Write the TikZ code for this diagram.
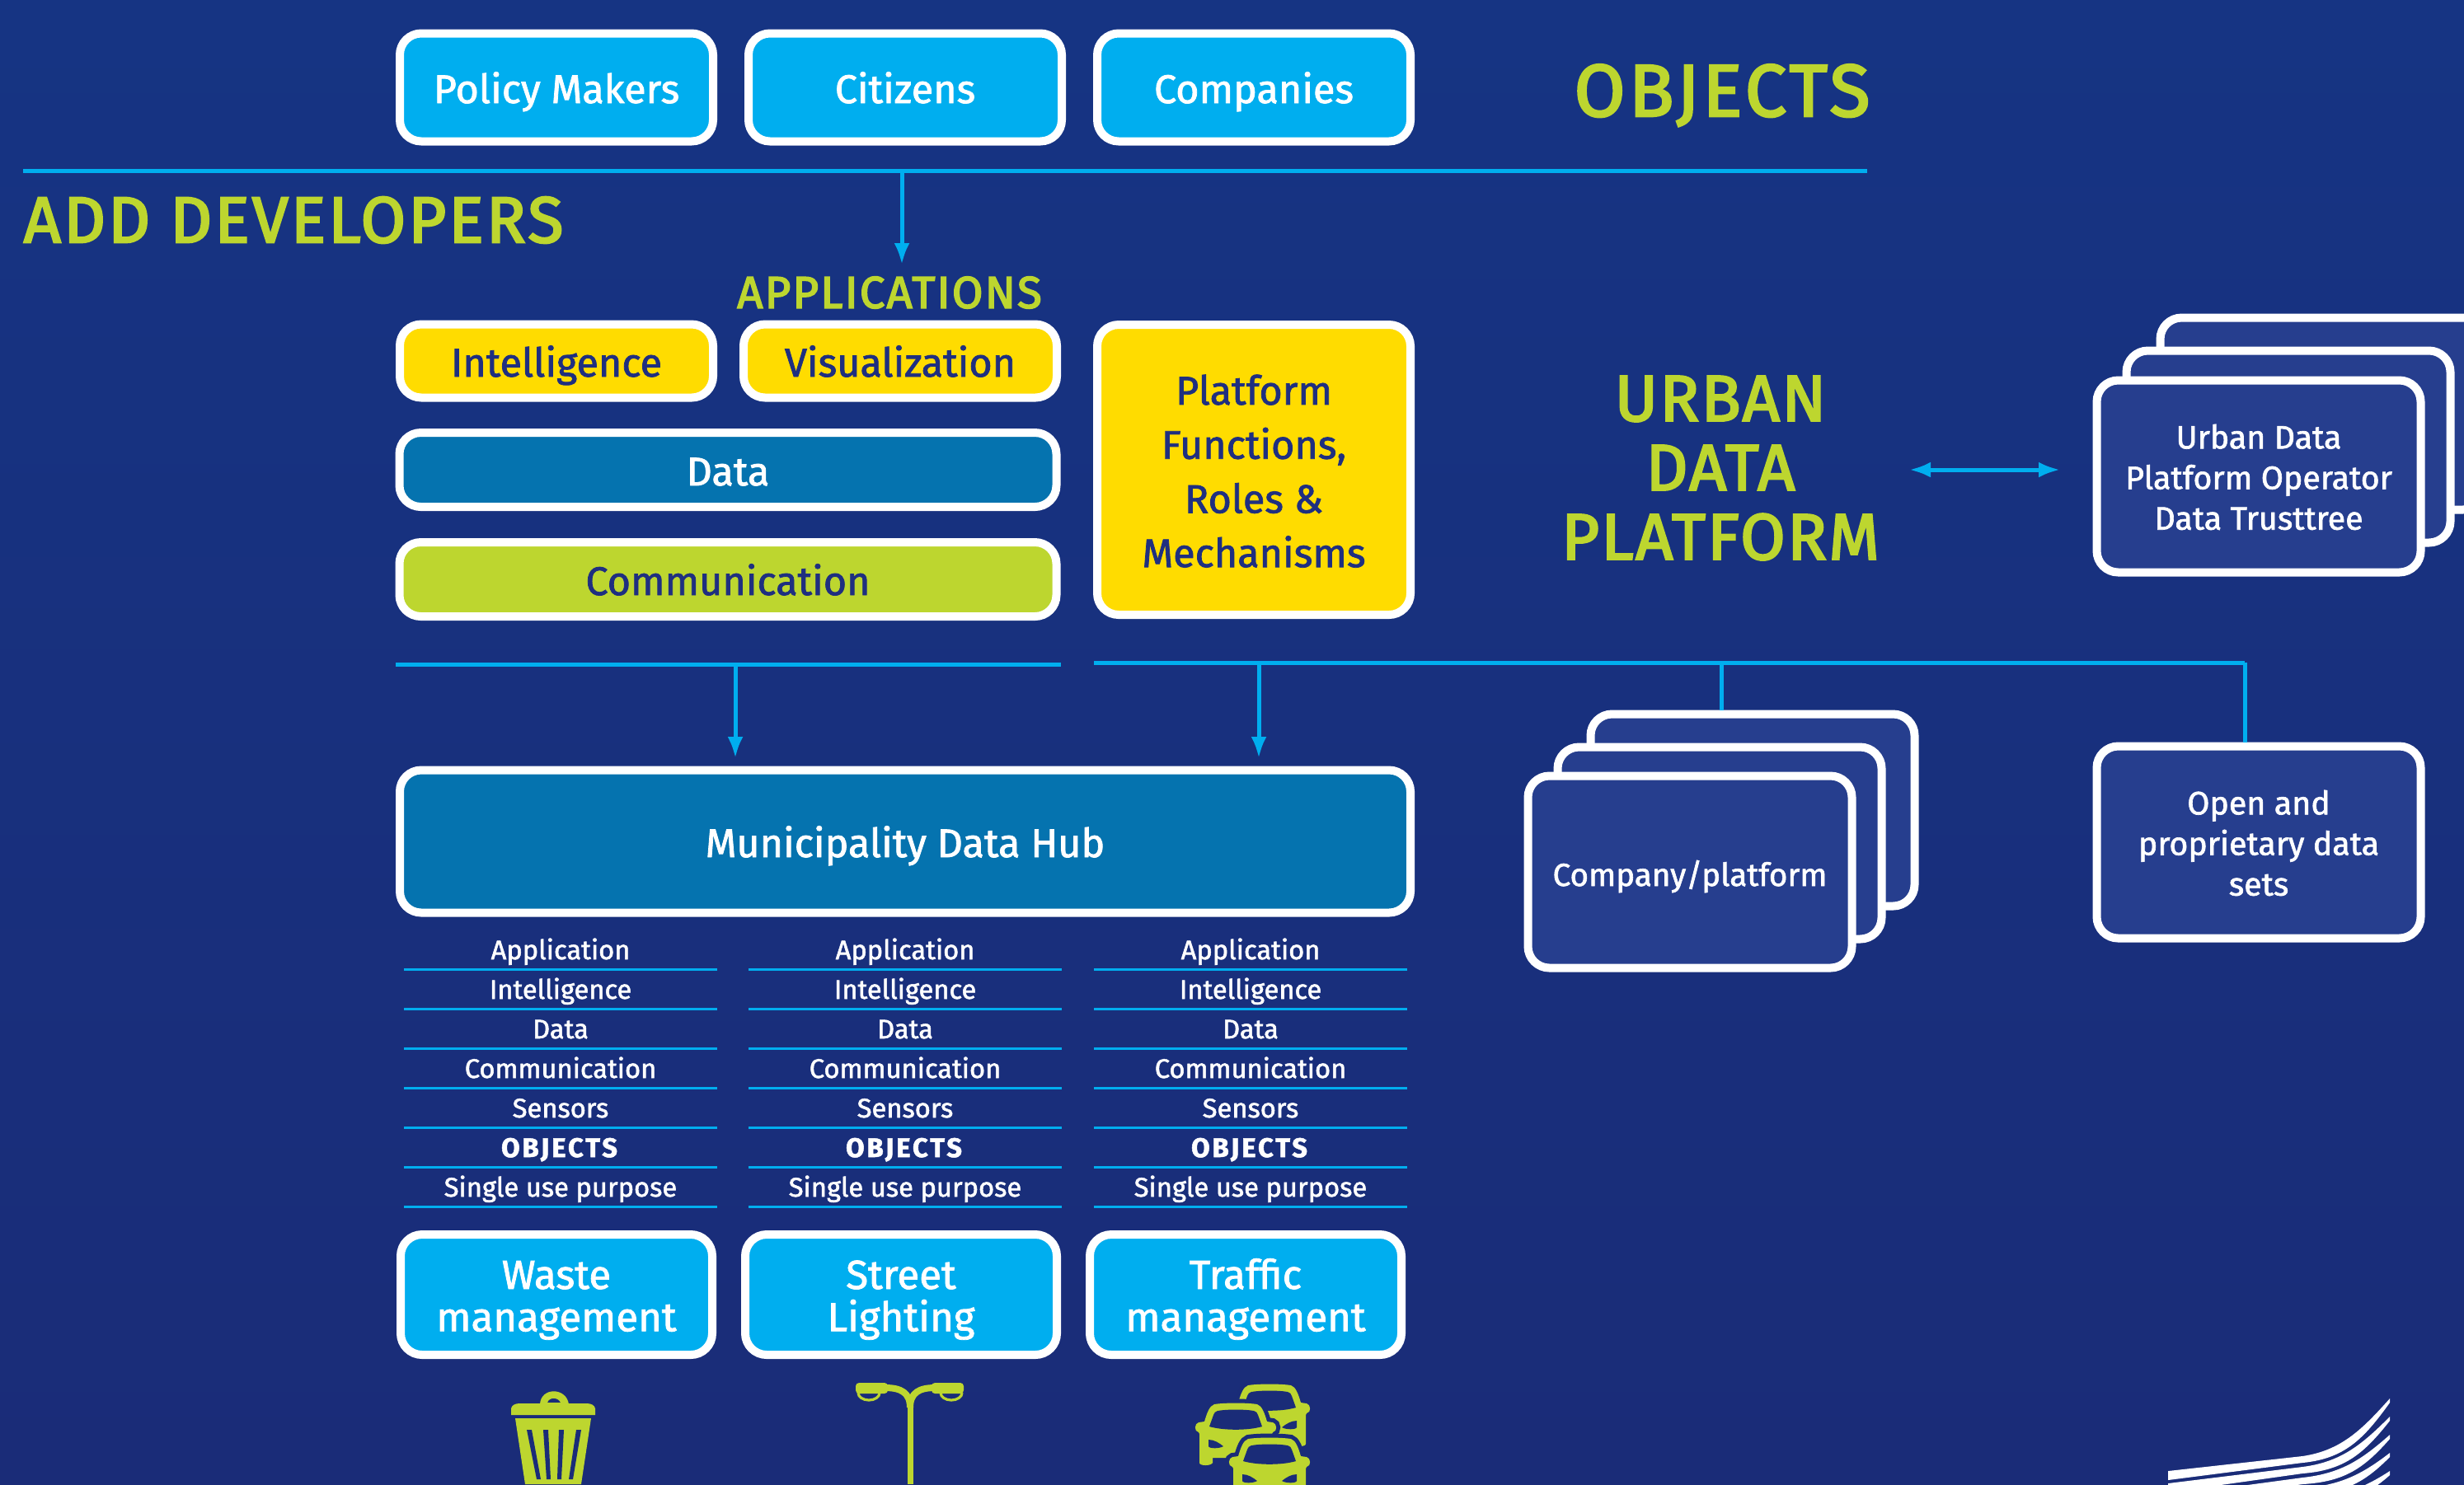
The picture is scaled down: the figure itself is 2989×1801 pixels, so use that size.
\documentclass[tikz,border=0pt]{standalone}
\usepackage{fontspec}
\setmainfont[FakeBold=1.6]{Fira Sans}
\usepackage{xcolor}
\usetikzlibrary{arrows.meta,positioning,calc}
\definecolor{bgtop}{HTML}{163483}
\definecolor{bgbot}{HTML}{1A2C78}
\definecolor{sky}{HTML}{00AEEF}
\definecolor{sun}{HTML}{FFDC00}
\definecolor{lime}{HTML}{BDD62F}
\definecolor{hub}{HTML}{0573AF}
\definecolor{panel}{HTML}{263E8E}
\definecolor{ink}{HTML}{1F2F80}
\newcommand{\fs}[2]{\fontsize{#1pt}{#2pt}\selectfont}
\tikzset{
  box/.style={draw=white,line width=1mm,rounded corners=2.6mm,align=center,inner sep=0pt,text=white},
  oneline/.style={text height=4.8mm,text depth=1mm},
  skybox/.style={box,oneline,fill=sky,minimum width=38mm,minimum height=13.1mm,font=\fs{13.8}{14}},
  wastebox/.style={box,fill=sky,minimum width=37.8mm,minimum height=14.6mm,text height=28.2pt,text depth=3pt,font=\fs{14}{14.6}},
  sunbox/.style={box,oneline,fill=sun,text=ink,minimum width=38mm,minimum height=8.9mm,font=\fs{13.8}{14}},
  widebox/.style={box,oneline,minimum width=79.7mm,minimum height=9mm,font=\fs{13.8}{14}},
  panelbox/.style={box,fill=panel,minimum width=39.3mm,minimum height=23.3mm,font=\fs{11.2}{14}},
  bigtitle/.style={text=lime,align=center,inner sep=0pt},
  rowtext/.style={text=white,minimum width=37.9mm,minimum height=4.8mm,inner sep=0pt,text height=3mm,text depth=0.6mm,font=\fs{9.3}{11}},
  rule/.style={draw=sky,line width=0.5mm},
  thinrule/.style={draw=sky,line width=0.25mm},
  arr/.style={draw=sky,line width=0.5mm,-{Latex[length=2.6mm,width=1.9mm]}},
  arrboth/.style={draw=sky,line width=0.5mm,{Latex[length=2.6mm,width=1.9mm]}-{Latex[length=2.6mm,width=1.9mm]}},
  pics/caricon/.style={code={
    \path[fill=lime,preaction={draw=bgbot,line width=1mm}] (-26,1) .. controls (-14,-1) and (14,-1) .. (26,1)
      .. controls (32,3) and (35,12) .. (38,22) -- (45,23)
      .. controls (50,24) and (51,34) .. (45,35) -- (44,37) -- (44,72) .. controls (44,76) and (30,76) .. (28,72) -- (28,66)
      -- (-28,66) -- (-28,72) .. controls (-30,76) and (-44,76) .. (-44,72) -- (-44,37) -- (-45,35)
      .. controls (-51,34) and (-50,24) .. (-45,23) -- (-38,22)
      .. controls (-35,12) and (-32,3) .. (-26,1) -- cycle;
    \fill[bgbot] (-22,9) .. controls (-12,7) and (12,7) .. (22,9) .. controls (25,10) and (26,11) .. (27,14) -- (32,28)
      .. controls (15,33) and (-15,33) .. (-32,28) -- (-27,14) .. controls (-26,11) and (-25,10) .. (-22,9) -- cycle;
    \fill[bgbot] (-33,44) .. controls (-26,44) and (-20,48) .. (-15,52) .. controls (-20,55) and (-32,55) .. (-33,52) -- cycle;
    \fill[bgbot] (33,44) .. controls (26,44) and (20,48) .. (15,52) .. controls (20,55) and (32,55) .. (33,52) -- cycle;
  }}
}
\begin{document}
\begin{tikzpicture}[x=0.1mm,y=-0.1mm]
\useasboundingbox (0,0) rectangle (2989,1801);
\clip (0,0) rectangle (2989,1801);
\fill[top color=bgtop,bottom color=bgbot] (0,0) rectangle (2989,1801);

% Top row
\node[skybox] (policy) at (675,106) {Policy Makers};
\node[skybox] (citizens) at (1098,106) {Citizens};
\node[skybox] (companies) at (1521,106) {Companies};
\node[bigtitle,text height=6.2mm,text depth=0mm,font=\fs{25.5}{28}\addfontfeature{LetterSpace=5,FakeBold=3}] (objects) at (2089,110) {OBJECTS};

% Developer rule
\coordinate (ruleL) at (28,207);
\coordinate (ruleR) at (2265,207);
\coordinate (toapps) at (1094,321);
\draw[rule] (ruleL) -- (ruleR);
\draw[arr] (toapps |- ruleL) -- (toapps);
\node[bigtitle,anchor=west,font=\fs{22.5}{26}\addfontfeature{LetterSpace=4,FakeBold=3}] (developers) at (28,267) {ADD DEVELOPERS};
\node[bigtitle,font=\fs{15.5}{18}\addfontfeature{LetterSpace=4,FakeBold=3}] (apps) at (1079,355) {APPLICATIONS};

% Platform layers
\node[sunbox] (intel) at (675,438) {Intelligence};
\node[sunbox] (visual) at (1092,438) {Visualization};
\node[widebox,fill=hub] (data) at (883,570) {Data};
\node[widebox,fill=lime,text=ink] (comm) at (883,703) {Communication};
\node[box,fill=sun,text=ink,minimum width=38mm,minimum height=35.2mm,text height=67.2pt,text depth=0pt,font=\fs{13.8}{18.7}] (functions) at (1521,570) {Platform\\Functions,\\Roles \&\\Mechanisms};
\node[bigtitle,font=\fs{22.5}{23.9}\addfontfeature{LetterSpace=3,FakeBold=3}] (urban) at (2087,568) {URBAN\\DATA\\PLATFORM};

% Operator stack
\node[panelbox] (opC) at (2817,502) {};
\node[panelbox] (opB) at (2776,542) {};
\node[panelbox,text height=36.8pt,text depth=0pt] (opA) at (2740,578) {Urban Data\\Platform Operator\\Data Trusttree};
\coordinate (opL) at (2316,570);
\coordinate (opR) at (2499,570);
\draw[arrboth] (opL) -- (opR);

% Rules below the platform
\coordinate (lowA) at (480,806);
\coordinate (lowB) at (1287,806);
\coordinate (lowC) at (1327,804);
\coordinate (lowD) at (2723,804);
\coordinate (hubA) at (892,920);
\coordinate (hubB) at (1527,920);
\draw[rule] (lowA) -- (lowB);
\draw[rule] (lowC) -- (lowD);
\draw[arr] (hubA |- lowA) -- (hubA);
\draw[arr] (hubB |- lowC) -- (hubB);

% Company stack
\node[panelbox] (coC) at (2126,983) {};
\node[panelbox] (coB) at (2086,1023) {};
\node[panelbox,text height=4.1mm,text depth=0.7mm,font=\fs{11}{14}] (coA) at (2050,1058) {Company/platform};
\node[panelbox,text height=36.8pt,text depth=0pt] (open) at (2740,1022) {Open and\\proprietary data\\sets};
\coordinate (coTop) at (2088,804);
\draw[rule] (coTop) -- (coTop |- coC.north);
\draw[rule] (lowD) -- (lowD |- open.north);

% Hub
\node[box,oneline,fill=hub,minimum width=122.6mm,minimum height=17.3mm,font=\fs{13.8}{14}] (munic) at (1098,1021) {Municipality Data Hub};

% Layer lists
\foreach \cx/\cn in {680/a,1098/b,1517/c} {
  \foreach \rowlabel [count=\i] in {Application,Intelligence,Data,Communication,Sensors,{\textbf{\addfontfeature{LetterSpace=9}OBJECTS}},Single use purpose} {
    \node[rowtext] (row\cn\i) at (\cx,1152+48*\i-48) {\rowlabel};
    \draw[thinrule] (row\cn\i.south west) -- (row\cn\i.south east);
  }
}

% Use cases
\node[wastebox] (waste) at (675,1571) {Waste\\management};
\node[wastebox] (street) at (1093,1571) {Street\\Lighting};
\node[wastebox] (traffic) at (1511,1571) {Traffic\\management};

% Bin
\fill[lime,even odd rule] (655,1704) .. controls (656,1683) and (687,1683) .. (690,1704) -- cycle
  (664,1702) .. controls (666,1695) and (677,1695) .. (680,1702) -- cycle;
\fill[lime] (620,1717) -- (620,1709) .. controls (621,1705) and (625,1703) .. (630,1703) -- (712,1703)
  .. controls (717,1703) and (721,1705) .. (722,1709) -- (722,1717) -- cycle;
\fill[lime] (625,1721) -- (717,1721) -- (705,1801) -- (637,1801) -- cycle;
\foreach \xa/\xb in {639/651,659/663,678/676,699/690} {
  \fill[bgbot] (\xa,1735) -- (\xa+6,1735) -- (\xb+5,1795) -- (\xb,1795) -- cycle;
}

% Lamp
\fill[lime] (1100.5,1700) rectangle (1107.5,1801);
\draw[lime,line width=0.8mm] (1074,1684) .. controls (1093,1684) and (1104,1690) .. (1104,1708);
\draw[lime,line width=0.8mm] (1134,1684) .. controls (1115,1684) and (1104,1690) .. (1104,1708);
\fill[lime,rounded corners=0.4mm] (1038,1678) rectangle (1077,1691);
\fill[lime,rounded corners=0.4mm] (1130,1678) rectangle (1169,1691);
\draw[lime,line width=0.32mm] (1041,1690) arc[start angle=180,end angle=0,x radius=13,y radius=9];
\draw[lime,line width=0.32mm] (1141,1690) arc[start angle=180,end angle=0,x radius=13,y radius=9];

% Cars
\pic at (1540,1680) {caricon};
\pic at (1499,1703) {caricon};
\pic at (1540,1745) {caricon};

% Flag swoosh
\foreach \i in {0,1,2,3,4} {
  \fill[white] (2630,1785+15*\i) -- (2793,1767+13*\i)
    .. controls (2840,1760+14*\i) and (2865,1735+18*\i) .. (2899,1697+22*\i)
    -- (2899,1702+22*\i)
    .. controls (2868,1745+18*\i) and (2845,1770+14*\i) .. (2793,1775+13*\i)
    -- (2630,1796+15*\i) -- cycle;
}
\end{tikzpicture}
\end{document}
